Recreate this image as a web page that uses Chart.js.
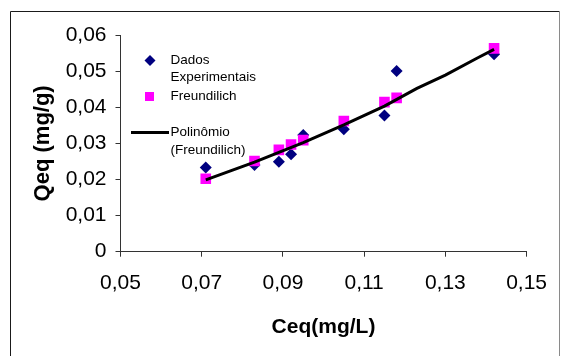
<!DOCTYPE html>
<html>
<head>
<meta charset="utf-8">
<script src="https://cdn.jsdelivr.net/npm/chart.js@4.4.1/dist/chart.umd.min.js"></script>
<style>
  html, body { margin: 0; padding: 0; background: #fff; }
  #wrap { width: 561px; height: 356px; position: relative; }
</style>
</head>
<body>
<div id="wrap"><canvas id="chart"></canvas></div>
<script>
// values
var ceq = [0.071, 0.083, 0.089, 0.092, 0.095, 0.105, 0.115, 0.118, 0.142];
var qeqExperimental = [0.0233, 0.0240, 0.0249, 0.0270, 0.0323, 0.0339, 0.0377, 0.0500, 0.0547];
var qeqFreundlich = [0.0202, 0.0251, 0.0282, 0.0297, 0.0309, 0.0362, 0.0414, 0.0426, 0.0563];
// trend line (polynomial of the Freundlich points) as traced
var polyCeq = [0.071, 0.083, 0.089, 0.095, 0.105, 0.115, 0.123, 0.130, 0.138, 0.142];
var polyQeq = [0.0199, 0.0248, 0.0275, 0.0302, 0.0351, 0.0403, 0.0452, 0.0489, 0.0537, 0.0560];

var FONT = "'Liberation Sans', Arial, sans-serif";

function toPoints(xs, ys){
	var pts = [];
	for(var i=0; i<xs.length; ++i){
		pts.push({x: xs[i], y: ys[i]});
	}
	return pts;
}

function comma(v, digits){
	if(Math.abs(v) < 1e-9) return "0";
	return v.toFixed(digits).replace(".", ",");
}

// outer frame + legend box drawn inside the plot, like the Excel original
var framePlugin = {
	id: "frame",
	afterDraw: function(chart){
		var ctx = chart.ctx;
		ctx.save();
		ctx.lineWidth = 1;
		ctx.strokeStyle = "#1a1a1a";
		ctx.beginPath();
		ctx.moveTo(10.5, 400);
		ctx.lineTo(10.5, 11.5);
		ctx.lineTo(559.5, 11.5);
		ctx.stroke();
		ctx.strokeStyle = "#8a8a8a";
		ctx.beginPath();
		ctx.moveTo(559.5, 11.5);
		ctx.lineTo(559.5, 400);
		ctx.stroke();

		// legend
		ctx.font = "13.5px " + FONT;
		ctx.textBaseline = "middle";
		ctx.textAlign = "left";

		ctx.fillStyle = "#000080";
		ctx.beginPath();
		ctx.moveTo(150, 55);
		ctx.lineTo(155.5, 60.5);
		ctx.lineTo(150, 66);
		ctx.lineTo(144.5, 60.5);
		ctx.closePath();
		ctx.fill();

		ctx.fillStyle = "#ff00ff";
		ctx.fillRect(145, 92, 9, 9);

		ctx.strokeStyle = "#000";
		ctx.lineWidth = 3;
		ctx.beginPath();
		ctx.moveTo(131, 132.5);
		ctx.lineTo(169, 132.5);
		ctx.stroke();

		ctx.fillStyle = "#000";
		ctx.fillText("Dados", 170.5, 60.5);
		ctx.fillText("Experimentais", 170.5, 77.5);
		ctx.fillText("Freundilich", 170.5, 96.5);
		ctx.fillText("Polinômio", 170.5, 132.5);
		ctx.fillText("(Freundilich)", 170.5, 150.5);
		ctx.restore();
	}
};

var axisColor = "#333";

var chart = new Chart(document.getElementById("chart"), {
	type: "scatter",
	data: {
		datasets: [
			{
				label: "Polinômio (Freundilich)",
				type: "line",
				data: toPoints(polyCeq, polyQeq),
				borderColor: "#000",
				borderWidth: 3,
				pointRadius: 0,
				tension: 0,
				fill: false,
				order: 0
			},
			{
				label: "Freundilich",
				data: toPoints(ceq, qeqFreundlich),
				pointStyle: "rect",
				pointRadius: 7.5,
				pointHoverRadius: 7.5,
				backgroundColor: "#ff00ff",
				borderColor: "#ff00ff",
				borderWidth: 0,
				order: 1
			},
			{
				label: "Dados Experimentais",
				data: toPoints(ceq, qeqExperimental),
				pointStyle: "rectRot",
				pointRadius: 6,
				pointHoverRadius: 6,
				backgroundColor: "#000080",
				borderColor: "#000080",
				borderWidth: 0,
				order: 2
			}
		]
	},
	options: {
		responsive: true,
		maintainAspectRatio: false,
		animation: false,
		layout: { padding: { left: 0, right: 22.7, top: 35, bottom: 0 } },
		plugins: {
			legend: { display: false },
			tooltip: { enabled: false }
		},
		scales: {
			x: {
				type: "linear",
				min: 0.05,
				max: 0.15,
				afterFit: function(scale){ scale.height = 104.3; },
				ticks: {
					stepSize: 0.02,
					color: "#000",
					padding: 14,
					maxRotation: 0,
					font: { family: FONT, size: 21 },
					callback: function(v){ return comma(v, 2); }
				},
				grid: {
					drawOnChartArea: false,
					drawTicks: true,
					tickLength: 5,
					color: axisColor
				},
				border: { display: true, color: axisColor, width: 1 },
				title: {
					display: true,
					text: "Ceq(mg/L)",
					color: "#000",
					font: { family: FONT, size: 21, weight: "bold" },
					padding: { top: 0, bottom: 16 }
				}
			},
			y: {
				type: "linear",
				min: 0,
				max: 0.06,
				afterFit: function(scale){ scale.width = 120.5; },
				ticks: {
					stepSize: 0.01,
					color: "#000",
					padding: 9,
					font: { family: FONT, size: 21 },
					callback: function(v){ return comma(v, 2); }
				},
				grid: {
					drawOnChartArea: false,
					drawTicks: true,
					tickLength: 5,
					color: axisColor
				},
				border: { display: true, color: axisColor, width: 1 },
				title: {
					display: true,
					text: "Qeq (mg/g)",
					color: "#000",
					font: { family: FONT, size: 22, weight: "bold" },
					padding: { top: 30, bottom: 0 }
				}
			}
		}
	},
	plugins: [framePlugin]
});
</script>
</body>
</html>
